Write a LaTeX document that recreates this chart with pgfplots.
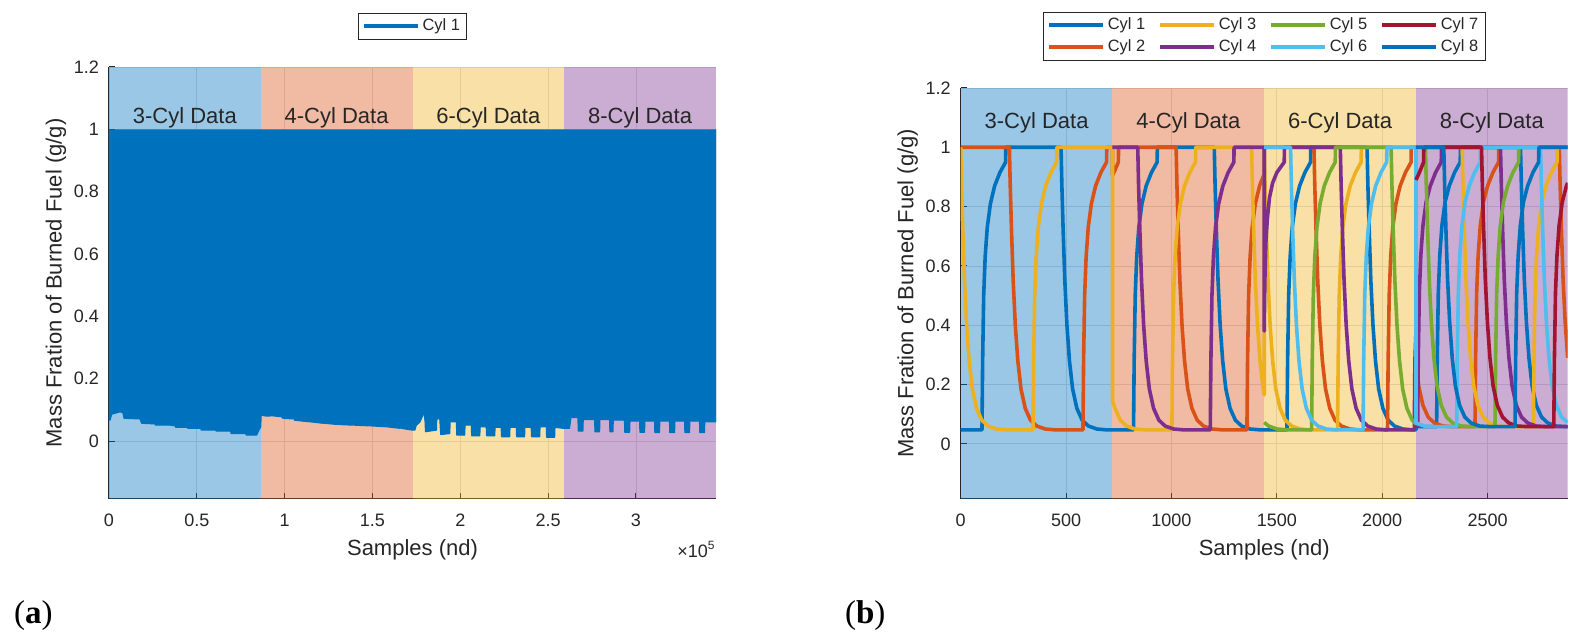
\documentclass[border=0pt]{standalone}
\usepackage{fontspec}
\setmainfont{Liberation Sans}
\newfontfamily\labserif{Liberation Serif}
\usepackage{pgfplots}
\pgfplotsset{compat=1.18}
\definecolor{tc}{RGB}{38,38,38}
\definecolor{c1}{RGB}{0,114,189}
\definecolor{c2}{RGB}{217,83,25}
\definecolor{c3}{RGB}{237,177,32}
\definecolor{c4}{RGB}{126,47,142}
\definecolor{c5}{RGB}{119,172,48}
\definecolor{c6}{RGB}{77,190,238}
\definecolor{c7}{RGB}{162,20,47}
\pgfplotsset{
  panel/.style={
    scale only axis, width=303.5pt,
    xmin=0, ymin=-0.186, ymax=1.2,
    axis x line*=bottom, axis y line*=left,
    axis line style={draw=tc, line width=0.5pt, -},
    tick align=inside, major tick length=3pt,
    tick style={draw=tc, line width=0.5pt},
    grid=major, major grid style={draw=black!13, line width=0.4pt},
    ytick={0,0.2,0.4,0.6,0.8,1,1.2},
    tick label style={font=\fontsize{9}{10}\selectfont, text=tc},
    /pgf/number format/assume math mode=true,
    /pgf/number format/1000 sep={},
    scaled ticks=false,
    xticklabel style={yshift=-4pt},
    yticklabel style={xshift=-1.5pt},
    xlabel={Samples (nd)}, ylabel={Mass Fration of Burned Fuel (g/g)},
    label style={font=\fontsize{11}{12}\selectfont, text=tc},
    legend cell align=left,
    legend image code/.code={\draw[##1] (0pt,0pt) -- (27pt,0pt);},
    legend style={draw=tc, line width=0.5pt, fill=white, font=\fontsize{8.2}{9}\selectfont, text=tc,
      inner xsep=2pt, inner ysep=1pt, anchor=south,
      nodes={inner sep=1.5pt, text height=6.2pt, text depth=1.8pt},
      /tikz/every even column/.append style={column sep=5pt}},
    every axis plot/.append style={line join=round},
  },
  cyl/.style={line width=1.8pt, forget plot},
}
\begin{document}
\begin{tikzpicture}
\useasboundingbox (0,0) rectangle (789.5pt,321pt);
% ---------------- (a) ----------------
\begin{axis}[panel, name=A, at={(54.5pt,71.5pt)}, anchor=south west, height=216pt,
  xmax=3.456, xtick={0,0.5,1,1.5,2,2.5,3},
  xlabel style={at={(axis description cs:0.5,-0.118)}, anchor=center},
  ylabel style={at={(axis description cs:-0.0873,0.5)}, anchor=center},
  legend style={at={(0.5,1.0634)}}]
\addplot[draw=none, fill=c1, fill opacity=0.4, forget plot] coordinates {(0,-0.186) (0,1.2) (0.864,1.2) (0.864,-0.186)};
\addplot[draw=none, fill=c2, fill opacity=0.4, forget plot] coordinates {(0.864,-0.186) (0.864,1.2) (1.728,1.2) (1.728,-0.186)};
\addplot[draw=none, fill=c3, fill opacity=0.4, forget plot] coordinates {(1.728,-0.186) (1.728,1.2) (2.592,1.2) (2.592,-0.186)};
\addplot[draw=none, fill=c4, fill opacity=0.4, forget plot] coordinates {(2.592,-0.186) (2.592,1.2) (3.456,1.2) (3.456,-0.186)};
\addplot[draw=c1, fill=c1, line width=0.6pt, forget plot] coordinates {
(0,1) (0,0.067) (0.006,0.067) (0.015,0.086) (0.034,0.089) (0.063,0.094) (0.080,0.090) (0.086,0.073)
(0.176,0.071) (0.186,0.057) (0.262,0.055) (0.265,0.051) (0.347,0.051) (0.372,0.049) (0.375,0.056) (0.380,0.044)
(0.442,0.044) (0.444,0.052) (0.449,0.041) (0.518,0.041) (0.520,0.050) (0.525,0.035) (0.603,0.035) (0.605,0.049)
(0.610,0.032) (0.688,0.032) (0.690,0.046) (0.695,0.024) (0.774,0.024) (0.776,0.041) (0.781,0.019) (0.840,0.019)
(0.855,0.036) (0.864,0.046) (0.866,0.083) (0.897,0.080) (0.930,0.081) (0.982,0.078) (0.990,0.073) (1.049,0.071)
(1.051,0.080) (1.056,0.067) (1.134,0.062) (1.136,0.075) (1.141,0.062) (1.219,0.057) (1.221,0.082) (1.226,0.057)
(1.305,0.053) (1.307,0.083) (1.312,0.053) (1.390,0.051) (1.392,0.085) (1.397,0.051) (1.475,0.049) (1.477,0.085)
(1.482,0.049) (1.570,0.046) (1.572,0.083) (1.577,0.046) (1.655,0.041) (1.657,0.080) (1.662,0.041) (1.728,0.035)
(1.741,0.035) (1.750,0.051) (1.769,0.060) (1.785,0.080) (1.794,0.094) (1.800,0.060) (1.802,0.030) (1.864,0.035)
(1.866,0.070) (1.883,0.073) (1.889,0.021) (1.940,0.024) (1.942,0.062) (1.978,0.062) (1.980,0.019) (2.025,0.019)
(2.027,0.051) (2.063,0.051) (2.065,0.017) (2.111,0.017) (2.113,0.046) (2.148,0.046) (2.150,0.017) (2.196,0.017)
(2.198,0.044) (2.233,0.044) (2.235,0.014) (2.281,0.014) (2.283,0.044) (2.319,0.044) (2.321,0.014) (2.366,0.014)
(2.368,0.044) (2.404,0.044) (2.406,0.014) (2.452,0.014) (2.454,0.046) (2.490,0.046) (2.492,0.012) (2.537,0.012)
(2.539,0.044) (2.584,0.041) (2.590,0.041) (2.622,0.041) (2.630,0.075) (2.670,0.075) (2.672,0.032) (2.698,0.032)
(2.700,0.069) (2.765,0.069) (2.767,0.030) (2.793,0.030) (2.795,0.069) (2.850,0.069) (2.852,0.030) (2.869,0.030)
(2.871,0.067) (2.935,0.067) (2.937,0.028) (2.964,0.028) (2.966,0.064) (3.021,0.064) (3.023,0.028) (3.049,0.028)
(3.051,0.064) (3.106,0.064) (3.108,0.027) (3.134,0.027) (3.136,0.064) (3.191,0.064) (3.193,0.027) (3.220,0.027)
(3.222,0.064) (3.277,0.064) (3.279,0.027) (3.305,0.027) (3.307,0.064) (3.362,0.064) (3.364,0.027) (3.390,0.027)
(3.392,0.062) (3.456,0.062) (3.456,1)};
\addlegendimage{c1, line width=1.8pt}
\addlegendentry{Cyl 1}
\node[anchor=base, font=\fontsize{11}{12}\selectfont, text=tc] at (axis cs:0.432,1.02) {3-Cyl Data};
\node[anchor=base, font=\fontsize{11}{12}\selectfont, text=tc] at (axis cs:1.296,1.02) {4-Cyl Data};
\node[anchor=base, font=\fontsize{11}{12}\selectfont, text=tc] at (axis cs:2.160,1.02) {6-Cyl Data};
\node[anchor=base, font=\fontsize{11}{12}\selectfont, text=tc] at (axis cs:3.024,1.02) {8-Cyl Data};
\end{axis}
\node[anchor=north east, font=\fontsize{9}{10}\selectfont, text=tc, inner sep=0pt] at ([yshift=-21pt]A.south east) {×10\textsuperscript{5}};
% ---------------- (b) ----------------
\begin{axis}[panel, at={(480.35pt,71.5pt)}, anchor=south west, height=205.5pt,
  xmax=2880, xtick={0,500,1000,1500,2000,2500},
  xlabel style={at={(axis description cs:0.5,-0.124)}, anchor=center},
  ylabel style={at={(axis description cs:-0.0873,0.5)}, anchor=center},
  legend columns=4, legend style={at={(0.5,1.0667)}}]
\addplot[draw=none, fill=c1, fill opacity=0.4, forget plot] coordinates {(0,-0.186) (0,1.2) (720,1.2) (720,-0.186)};
\addplot[draw=none, fill=c2, fill opacity=0.4, forget plot] coordinates {(720,-0.186) (720,1.2) (1440,1.2) (1440,-0.186)};
\addplot[draw=none, fill=c3, fill opacity=0.4, forget plot] coordinates {(1440,-0.186) (1440,1.2) (2160,1.2) (2160,-0.186)};
\addplot[draw=none, fill=c4, fill opacity=0.4, forget plot] coordinates {(2160,-0.186) (2160,1.2) (2880,1.2) (2880,-0.186)};
% Cyl 1
\addplot[cyl, c1] coordinates {(0,.047) (101,.047) (104,.28) (109,.50) (116,.63) (126,.73) (141,.81) (161,.87) (186,.915) (213,.95) (214,1) (476,1) (480,.87) (486,.72) (494,.55) (504,.40) (516,.28) (531,.185) (551,.12) (576,.08) (606,.06) (646,.05) (696,.047) (820,.047) (823,.28) (828,.50) (835,.63) (845,.73) (860,.81) (880,.87) (905,.915) (932,.95) (933,1) (1203,1) (1207,.87) (1213,.72) (1221,.55) (1231,.40) (1243,.28) (1258,.185) (1278,.12) (1303,.08) (1333,.06) (1373,.05) (1423,.047) (1548,.047) (1551,.28) (1556,.50) (1563,.63) (1573,.73) (1588,.81) (1608,.87) (1633,.915) (1660,.95) (1661,1) (1928,1) (1932,.87) (1938,.72) (1946,.55) (1956,.40) (1968,.28) (1983,.185) (2003,.12) (2028,.08) (2058,.06) (2098,.05) (2148,.047) (2160,.047) (2160,.058) (2258,.058) (2261,.29) (2266,.51) (2273,.635) (2283,.735) (2298,.815) (2318,.87) (2343,.915) (2370,.95) (2371,1) (2656,1) (2660,.875) (2666,.725) (2674,.555) (2684,.41) (2696,.29) (2711,.195) (2731,.13) (2756,.09) (2786,.07) (2826,.06) (2880,.058)};
% Cyl 2
\addplot[cyl, c2] coordinates {(0,1) (231,1) (235,.87) (241,.72) (249,.55) (259,.40) (271,.28) (286,.185) (306,.12) (331,.08) (361,.06) (401,.05) (451,.047) (580,.047) (583,.28) (588,.50) (595,.63) (605,.73) (620,.81) (640,.87) (665,.915) (692,.95) (693,1) (720,1) (720,.905) (730,.92) (748,.95) (749,1) (1022,1) (1026,.87) (1032,.72) (1040,.55) (1050,.40) (1062,.28) (1077,.185) (1097,.12) (1122,.08) (1152,.06) (1192,.05) (1242,.047) (1358,.047) (1361,.28) (1366,.50) (1373,.63) (1383,.73) (1398,.81) (1418,.87) (1440,.91) (1440,1) (1676,1) (1680,.87) (1686,.72) (1694,.55) (1704,.40) (1716,.28) (1731,.185) (1751,.12) (1776,.08) (1806,.06) (1846,.05) (1896,.047) (2025,.047) (2028,.28) (2033,.50) (2040,.63) (2050,.73) (2065,.81) (2085,.87) (2110,.915) (2137,.95) (2138,1) (2160,1) (2160,.30) (2173,.195) (2193,.13) (2218,.09) (2248,.07) (2288,.06) (2330,.058) (2440,.058) (2443,.29) (2448,.51) (2455,.635) (2465,.735) (2480,.815) (2500,.87) (2525,.915) (2552,.95) (2553,1) (2840,1) (2844,.875) (2850,.725) (2858,.555) (2868,.41) (2880,.29)};
% Cyl 3
\addplot[cyl, c3] coordinates {(0,1) (4,.87) (10,.72) (18,.55) (28,.40) (40,.28) (55,.185) (75,.12) (100,.08) (130,.06) (170,.05) (220,.047) (343,.047) (346,.28) (351,.50) (358,.63) (368,.73) (383,.81) (403,.87) (428,.915) (455,.95) (456,1) (720,1) (720,.145) (732,.12) (757,.08) (787,.06) (827,.05) (877,.047) (1002,.047) (1005,.28) (1010,.50) (1017,.63) (1027,.73) (1042,.81) (1062,.87) (1087,.915) (1114,.95) (1115,1) (1380,1) (1384,.87) (1390,.72) (1398,.55) (1408,.40) (1420,.28) (1435,.185) (1440,.165) (1440,1) (1444,.87) (1450,.72) (1458,.55) (1468,.40) (1480,.28) (1495,.185) (1515,.12) (1540,.08) (1570,.06) (1610,.05) (1660,.047) (1788,.047) (1791,.28) (1796,.50) (1803,.63) (1813,.73) (1828,.81) (1848,.87) (1873,.915) (1900,.95) (1901,1) (2379,1) (2383,.875) (2389,.725) (2397,.555) (2407,.41) (2419,.29) (2434,.195) (2454,.13) (2479,.09) (2509,.07) (2549,.06) (2600,.058) (2717,.058) (2720,.29) (2725,.51) (2732,.635) (2742,.735) (2757,.815) (2777,.87) (2802,.915) (2829,.95) (2830,1) (2880,1)};
% Cyl 4
\addplot[cyl, c4] coordinates {(720,1) (840,1) (844,.87) (850,.72) (858,.55) (868,.40) (880,.28) (895,.185) (915,.12) (940,.08) (970,.06) (1010,.05) (1060,.047) (1184,.047) (1187,.28) (1192,.50) (1199,.63) (1209,.73) (1224,.81) (1244,.87) (1269,.915) (1296,.95) (1297,1) (1440,1) (1440,.38) (1443,.55) (1448,.68) (1455,.76) (1465,.83) (1480,.88) (1500,.915) (1520,.935) (1535,.95) (1536,1) (1801,1) (1805,.87) (1811,.72) (1819,.55) (1829,.40) (1841,.28) (1856,.185) (1876,.12) (1901,.08) (1931,.06) (1971,.05) (2021,.047) (2152,.047) (2155,.28) (2160,.38) (2160,.058) (2168,.058) (2171,.29) (2176,.51) (2183,.635) (2193,.735) (2208,.815) (2228,.87) (2253,.915) (2280,.95) (2281,1) (2561,1) (2565,.875) (2571,.725) (2579,.555) (2589,.41) (2601,.29) (2616,.195) (2636,.13) (2661,.09) (2691,.07) (2731,.06) (2780,.058) (2880,.058)};
% Cyl 5
\addplot[cyl, c5] coordinates {(1440,.072) (1461,.06) (1501,.05) (1551,.047) (1665,.047) (1668,.28) (1673,.50) (1680,.63) (1690,.73) (1705,.81) (1725,.87) (1750,.915) (1777,.95) (1778,1) (2042,1) (2046,.87) (2052,.72) (2060,.55) (2070,.40) (2082,.28) (2097,.185) (2117,.12) (2142,.08) (2160,.068) (2160,1) (2205,1) (2209,.875) (2215,.725) (2223,.555) (2233,.41) (2245,.29) (2260,.195) (2280,.13) (2305,.09) (2335,.07) (2375,.06) (2425,.058) (2535,.058) (2538,.29) (2543,.51) (2550,.635) (2560,.735) (2575,.815) (2595,.87) (2620,.915) (2647,.95) (2648,1) (2880,1)};
% Cyl 6
\addplot[cyl, c6] coordinates {(1440,1) (1565,1) (1569,.87) (1575,.72) (1583,.55) (1593,.40) (1605,.28) (1620,.185) (1640,.12) (1665,.08) (1695,.06) (1735,.05) (1785,.047) (1909,.047) (1912,.28) (1917,.50) (1924,.63) (1934,.73) (1949,.81) (1969,.87) (1994,.915) (2021,.95) (2022,1) (2160,1) (2160,.07) (2200,.06) (2250,.058) (2353,.058) (2356,.29) (2361,.51) (2368,.635) (2378,.735) (2393,.815) (2413,.87) (2438,.915) (2465,.95) (2466,1) (2751,1) (2755,.875) (2761,.725) (2769,.555) (2779,.41) (2791,.29) (2806,.195) (2826,.13) (2851,.09) (2880,.072)};
% Cyl 7
\addplot[cyl, c7] coordinates {(2160,.89) (2170,.905) (2185,.93) (2196,.95) (2197,1) (2471,1) (2475,.875) (2481,.725) (2489,.555) (2499,.41) (2511,.29) (2526,.195) (2546,.13) (2571,.09) (2601,.07) (2641,.06) (2690,.058) (2814,.058) (2817,.29) (2822,.51) (2829,.635) (2839,.735) (2854,.815) (2874,.87) (2880,.88)};
% Cyl 8
\addplot[cyl, c1] coordinates {(2160,1) (2292,1) (2296,.875) (2302,.725) (2310,.555) (2320,.41) (2332,.29) (2347,.195) (2367,.13) (2392,.09) (2422,.07) (2462,.06) (2510,.058) (2630,.058) (2633,.29) (2638,.51) (2645,.635) (2655,.735) (2670,.815) (2690,.87) (2715,.915) (2742,.95) (2743,1) (2880,1)};
\addlegendimage{c1, line width=1.8pt}\addlegendentry{Cyl 1}
\addlegendimage{c3, line width=1.8pt}\addlegendentry{Cyl 3}
\addlegendimage{c5, line width=1.8pt}\addlegendentry{Cyl 5}
\addlegendimage{c7, line width=1.8pt}\addlegendentry{Cyl 7}
\addlegendimage{c2, line width=1.8pt}\addlegendentry{Cyl 2}
\addlegendimage{c4, line width=1.8pt}\addlegendentry{Cyl 4}
\addlegendimage{c6, line width=1.8pt}\addlegendentry{Cyl 6}
\addlegendimage{c1, line width=1.8pt}\addlegendentry{Cyl 8}
\node[anchor=base, font=\fontsize{11}{12}\selectfont, text=tc] at (axis cs:360,1.065) {3-Cyl Data};
\node[anchor=base, font=\fontsize{11}{12}\selectfont, text=tc] at (axis cs:1080,1.065) {4-Cyl Data};
\node[anchor=base, font=\fontsize{11}{12}\selectfont, text=tc] at (axis cs:1800,1.065) {6-Cyl Data};
\node[anchor=base, font=\fontsize{11}{12}\selectfont, text=tc] at (axis cs:2520,1.065) {8-Cyl Data};
\end{axis}
\node[anchor=base west, font=\labserif\fontsize{16.5}{18}\selectfont] at (3.5pt,9pt) {(\textbf{a})};
\node[anchor=base west, font=\labserif\fontsize{16.5}{18}\selectfont] at (419pt,9pt) {(\textbf{b})};
\end{tikzpicture}
\end{document}
